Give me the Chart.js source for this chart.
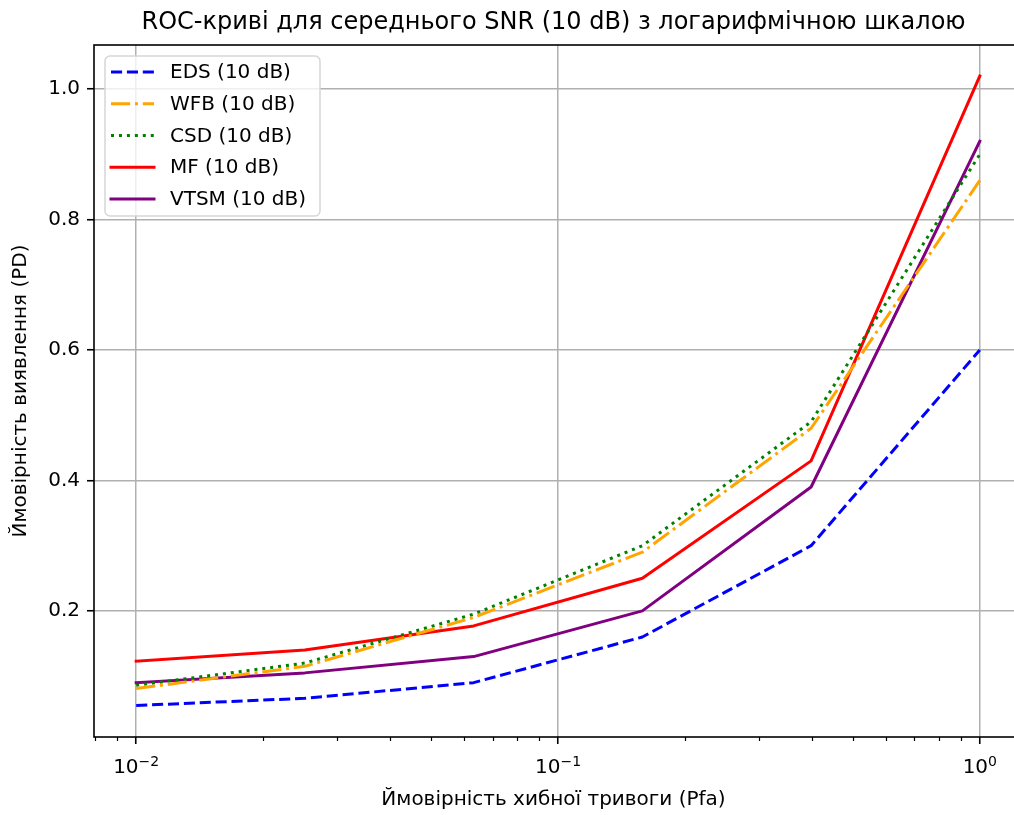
<!DOCTYPE html>
<html>
<head>
<meta charset="utf-8">
<script src="https://cdn.jsdelivr.net/npm/chart.js@4.4.1/dist/chart.umd.min.js"></script>
<style>
  html, body { margin: 0; padding: 0; background: #fff; overflow: hidden; }
  canvas { display: block; }
</style>
</head>
<body>
<canvas id="roc" width="1024" height="815"></canvas>
<script>
// ── Дані ROC-кривих (SNR = 10 dB) ─────────────────────────
const pfa  = [0.01, 0.0251, 0.0631, 0.1585, 0.3981, 1.0];
const eds  = [0.055, 0.066, 0.09, 0.16, 0.30, 0.60];
const wfb  = [0.081, 0.115, 0.19, 0.29, 0.48, 0.86];
const csd  = [0.086, 0.12, 0.195, 0.30, 0.49, 0.90];
const mf   = [0.123, 0.14, 0.177, 0.25, 0.43, 1.02];
const vtsm = [0.09, 0.105, 0.13, 0.20, 0.39, 0.92];

const seriesNames = ["EDS (10 dB)", "WFB (10 dB)", "CSD (10 dB)", "MF (10 dB)", "VTSM (10 dB)"];
const xTicks = [0.01, 0.1, 1];
const xTickExp = ["\u22122", "\u22121", "0"];
const yTicks = [0.2, 0.4, 0.6, 0.8, 1.0];

const TITLE  = "ROC-криві для середнього SNR (10 dB) з логарифмічною шкалою";
const XLABEL = "Ймовірність хибної тривоги (Pfa)";
const YLABEL = "Ймовірність виявлення (PD)";

const FONT = "DejaVu Sans";
const LW = 3;

const styles = [
  { color: "#0000ff", dash: [11.1, 4.8] },
  { color: "#ffa500", dash: [19.2, 4.8, 3, 4.8] },
  { color: "#008000", dash: [3, 4.95] },
  { color: "#ff0000", dash: [] },
  { color: "#800080", dash: [] },
];

const allSeries = [eds, wfb, csd, mf, vtsm];

const datasets = allSeries.map((vals, i) => ({
  label: seriesNames[i],
  data: vals.map((v, j) => ({ x: pfa[j], y: v })),
  borderColor: styles[i].color,
  borderDash: styles[i].dash,
  borderWidth: LW,
  borderCapStyle: styles[i].dash.length ? "butt" : "square",
  borderJoinStyle: "round",
  pointRadius: 0,
  tension: 0,
  fill: false,
}));

// ── Заголовок, підписи осей, рамка, поділки, легенда ──────
const decorPlugin = {
  id: "decor",
  afterDatasetsDraw(chart) {
    const { ctx, chartArea: a, scales } = chart;
    ctx.save();
    // рамка осей
    ctx.strokeStyle = "#000";
    ctx.lineWidth = 1.6;
    ctx.strokeRect(a.left, a.top, a.right - a.left, a.bottom - a.top);

    // дрібні поділки логарифмічної осі
    const xs = scales.x;
    ctx.lineWidth = 1.2;
    for (let e = -3; e <= 0; e++) {
      for (let m = 2; m <= 9; m++) {
        const v = m * Math.pow(10, e);
        if (v < xs.min || v > xs.max) continue;
        const px = Math.round(xs.getPixelForValue(v)) + 0.5;
        ctx.beginPath();
        ctx.moveTo(px, a.bottom);
        ctx.lineTo(px, a.bottom + 4);
        ctx.stroke();
      }
    }

    // підписи основних поділок: 10 зі степенем
    ctx.fillStyle = "#000";
    ctx.textBaseline = "alphabetic";
    ctx.textAlign = "left";
    xTicks.forEach((v, i) => {
      const px = xs.getPixelForValue(v);
      ctx.font = "20px '" + FONT + "'";
      const wb = ctx.measureText("10").width;
      ctx.font = "14px '" + FONT + "'";
      const we = ctx.measureText(xTickExp[i]).width;
      const x0 = px - (wb + we) / 2;
      ctx.font = "20px '" + FONT + "'";
      ctx.fillText("10", x0, 773);
      ctx.font = "14px '" + FONT + "'";
      ctx.fillText(xTickExp[i], x0 + wb, 765.5);
    });

    // заголовок
    ctx.font = "24px '" + FONT + "'";
    ctx.textAlign = "center";
    const cx = (a.left + a.right) / 2;
    ctx.fillText(TITLE, 553.5, 29);

    // підпис осі X
    ctx.font = "20px '" + FONT + "'";
    ctx.fillText(XLABEL, 553.5, 805);

    // підпис осі Y
    ctx.save();
    ctx.translate(21, (a.top + a.bottom) / 2);
    ctx.rotate(-Math.PI / 2);
    ctx.textBaseline = "middle";
    ctx.fillText(YLABEL, 0, 0);
    ctx.restore();

    // легенда
    const bx = 105, by = 56, bw = 215, bh = 160, r = 5;
    ctx.beginPath();
    ctx.moveTo(bx + r, by);
    ctx.arcTo(bx + bw, by, bx + bw, by + bh, r);
    ctx.arcTo(bx + bw, by + bh, bx, by + bh, r);
    ctx.arcTo(bx, by + bh, bx, by, r);
    ctx.arcTo(bx, by, bx + bw, by, r);
    ctx.closePath();
    ctx.fillStyle = "rgba(255,255,255,0.8)";
    ctx.fill();
    ctx.strokeStyle = "#d6d6d6";
    ctx.lineWidth = 1.5;
    ctx.stroke();

    ctx.textAlign = "left";
    ctx.textBaseline = "middle";
    chart.data.datasets.forEach((ds, i) => {
      const y = 72 + i * 31.75;
      ctx.beginPath();
      ctx.strokeStyle = ds.borderColor;
      ctx.lineWidth = LW;
      ctx.lineCap = ds.borderCapStyle;
      ctx.setLineDash(ds.borderDash);
      ctx.moveTo(111, y);
      ctx.lineTo(154, y);
      ctx.stroke();
      ctx.setLineDash([]);
      ctx.fillStyle = "#000";
      ctx.fillText(ds.label, 170, y + 1);
    });
    ctx.restore();
  }
};

new Chart(document.getElementById("roc"), {
  type: "line",
  data: { datasets },
  options: {
    responsive: false,
    animation: false,
    devicePixelRatio: 1,
    layout: { padding: { top: 45, left: 0, right: 2, bottom: 0 } },
    plugins: {
      legend: { display: false },
      title: { display: false },
      tooltip: { enabled: false },
    },
    scales: {
      x: {
        type: "logarithmic",
        min: Math.pow(10, -2.1),
        max: Math.pow(10, 0.1),
        afterBuildTicks(s) { s.ticks = xTicks.map(v => ({ value: v })); },
        afterFit(s) { s.height = 78; },
        ticks: { display: false, autoSkip: false, maxRotation: 0 },
        grid: {
          color: "#b0b0b0",
          lineWidth: 1.5,
          tickColor: "#000",
          tickLength: 7,
          tickWidth: 1.6,
        },
        border: { display: false },
      },
      y: {
        type: "linear",
        min: 0.0067,
        max: 1.0676,
        afterBuildTicks(s) { s.ticks = yTicks.map(v => ({ value: v })); },
        afterFit(s) { s.width = 94; },
        ticks: {
          padding: 7,
          color: "#000",
          font: { family: FONT, size: 20 },
          callback: (v) => v.toFixed(1),
        },
        grid: {
          color: "#b0b0b0",
          lineWidth: 1.5,
          tickColor: "#000",
          tickLength: 7,
          tickWidth: 1.6,
        },
        border: { display: false },
      },
    },
  },
  plugins: [decorPlugin],
});
</script>
</body>
</html>
